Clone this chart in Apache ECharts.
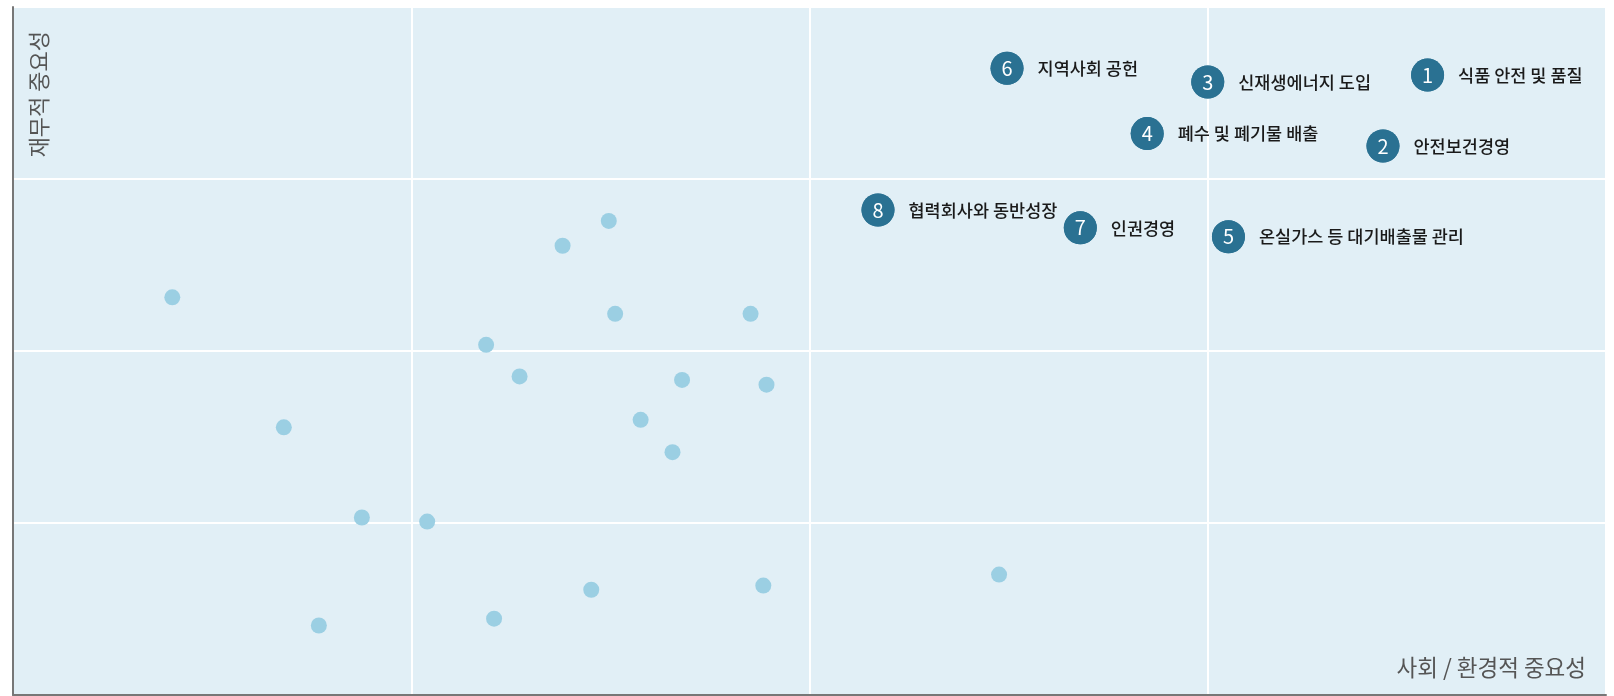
<!DOCTYPE html>
<html lang="ko">
<head>
<meta charset="UTF-8">
<title>중요성 평가</title>
<style type="text/css">
    html, body { margin: 0; padding: 0; background: #fff; }
    #chart { width: 1614px; height: 696px; }
</style>
</head>
<body>
<div id="chart"></div>
<script src="https://cdn.jsdelivr.net/npm/echarts@6/dist/echarts.min.js"></script>
<script type="text/javascript">
// 기타 이슈 (연한 점)
var dotX = [10.0, 37.4, 34.5, 37.8, 46.3, 29.7, 31.8, 42.0, 47.3, 17.0, 39.4, 41.4, 21.9, 26.0, 61.9, 36.3, 47.1, 19.2, 30.2];
var dotY = [57.8, 68.9, 65.3, 55.4, 55.4, 50.9, 46.3, 45.8, 45.1, 38.9, 40.0, 35.3, 25.8, 25.2, 17.5, 15.3, 15.9, 10.1, 11.1];

// 중대 이슈
var issueNo = [1, 2, 3, 4, 5, 6, 7, 8];
var issueNames = ['식품 안전 및 품질', '안전보건경영', '신재생에너지 도입', '폐수 및 폐기물 배출',
                  '온실가스 등 대기배출물 관리', '지역사회 공헌', '인권경영', '협력회사와 동반성장'];
var issueX = [88.8, 86.0, 75.0, 71.2, 76.3, 62.4, 67.0, 54.3];
var issueY = [90.1, 79.8, 89.1, 81.6, 66.6, 91.1, 67.9, 70.5];

var axisTicks = [0, 25, 50, 75, 100];

var dots = dotX.map(function (x, i) { return [x, dotY[i]]; });
var issues = issueX.map(function (x, i) { return [x, issueY[i], issueNo[i], issueNames[i]]; });

var font = '"Noto Sans CJK KR", "Noto Sans", sans-serif';
var myChart = echarts.init(document.getElementById('chart'));
var option = {
    animation: false,
    grid: {
        left: 13, right: 8, top: 7, bottom: 1,
        show: true,
        backgroundColor: '#e1eff6',
        borderWidth: 0
    },
    xAxis: {
        type: 'value',
        min: axisTicks[0], max: axisTicks[axisTicks.length - 1], interval: 25,
        axisLine: { show: true, lineStyle: { color: '#777', width: 2 } },
        axisTick: { show: false },
        axisLabel: { show: false },
        splitLine: { show: true, lineStyle: { color: '#ffffff', width: 2 } }
    },
    yAxis: {
        type: 'value',
        min: axisTicks[0], max: axisTicks[axisTicks.length - 1], interval: 25,
        axisLine: { show: true, lineStyle: { color: '#777', width: 2 } },
        axisTick: { show: false },
        axisLabel: { show: false },
        splitLine: { show: true, lineStyle: { color: '#ffffff', width: 2 } }
    },
    graphic: [
        {
            type: 'text',
            left: 28, top: 31,
            rotation: Math.PI / 2,
            style: { text: '재무적 중요성', fill: '#555', font: '22px ' + font }
        },
        {
            type: 'text',
            right: 28, top: 656,
            style: { text: '사회 / 환경적 중요성', fill: '#555', font: '22.5px ' + font }
        }
    ],
    series: [
        {
            type: 'scatter',
            data: dots,
            symbolSize: 16,
            itemStyle: { color: '#9bcfe3', opacity: 1 },
            silent: true
        },
        {
            // 이슈 이름 (오른쪽)
            type: 'scatter',
            data: issues,
            symbolSize: 33,
            itemStyle: { color: '#2a7192', opacity: 1 },
            label: {
                show: true,
                position: 'right',
                distance: 14,
                color: '#1a1a1a',
                fontSize: 17.5,
                fontWeight: 500,
                fontFamily: font,
                formatter: function (p) { return p.data[3]; }
            },
            silent: true
        },
        {
            // 이슈 번호 (원 안)
            type: 'scatter',
            data: issues,
            symbolSize: 33,
            itemStyle: { color: '#2a7192', opacity: 1 },
            label: {
                show: true,
                position: 'inside',
                color: '#ffffff',
                fontSize: 20,
                fontFamily: font,
                formatter: function (p) { return p.data[2]; }
            },
            silent: true
        }
    ]
};
myChart.setOption(option);
</script>
</body>
</html>
